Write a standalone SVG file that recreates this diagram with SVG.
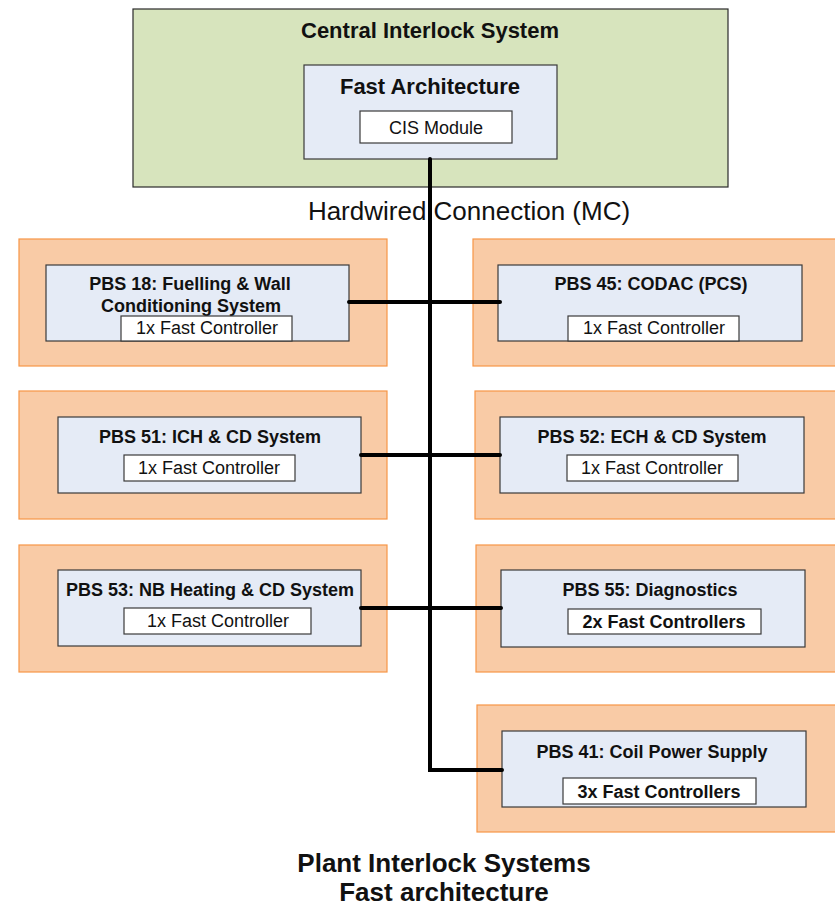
<svg xmlns="http://www.w3.org/2000/svg" width="835" height="907" viewBox="0 0 835 907">
  <style>
    .outer { fill: #f9cba6; stroke: #f79646; stroke-width: 1.2; }
    .inner { fill: #e5ebf6; stroke: #3a3a3a; stroke-width: 1.2; }
    .ctrl { fill: #ffffff; stroke: #3a3a3a; stroke-width: 1.2; }
    .t { font-family: "Liberation Sans", Arial, sans-serif; fill: #111; text-anchor: middle; }
    .ttl { font-size: 18px; font-weight: bold; }
    .ctl { font-size: 18px; }
    .ctlb { font-size: 18px; font-weight: bold; }
    .wire { fill: none; stroke: #000; stroke-width: 4; stroke-linecap: round; stroke-linejoin: miter; }
  </style>
  <rect width="835" height="907" fill="#ffffff"/>

  <!-- Central interlock system -->
  <g id="cis">
    <rect x="133" y="9" width="595" height="178" fill="#d7e4bd" stroke="#2a2a2a" stroke-width="1.2"/>
    <text class="t" x="430" y="38" font-size="22" font-weight="bold">Central Interlock System</text>
    <rect class="inner" x="304" y="65" width="253" height="94"/>
    <text class="t" x="430" y="94" font-size="22" font-weight="bold">Fast Architecture</text>
    <rect class="ctrl" x="360" y="111" width="152" height="32"/>
    <text class="t ctl" x="436" y="134">CIS Module</text>
  </g>

  <!-- Plant systems -->
  <g id="pbs18">
    <rect class="outer" x="19" y="239" width="368" height="127"/>
    <rect class="inner" x="46" y="265" width="303" height="76"/>
    <text class="t ttl" x="190" y="290" font-size="19">PBS 18: Fuelling &amp; Wall</text>
    <text class="t ttl" x="191" y="312" font-size="19">Conditioning System</text>
    <rect class="ctrl" x="121" y="316" width="171" height="25"/>
    <text class="t ctl" x="207" y="334">1x Fast Controller</text>
  </g>

  <g id="pbs45">
    <rect class="outer" x="473" y="239" width="372" height="127"/>
    <rect class="inner" x="498" y="265" width="304" height="76"/>
    <text class="t ttl" x="651" y="290">PBS 45: CODAC (PCS)</text>
    <rect class="ctrl" x="568" y="316" width="171" height="25"/>
    <text class="t ctl" x="654" y="334">1x Fast Controller</text>
  </g>

  <g id="pbs51">
    <rect class="outer" x="19" y="391" width="368" height="128"/>
    <rect class="inner" x="58" y="417" width="303" height="76"/>
    <text class="t ttl" x="210" y="443">PBS 51: ICH &amp; CD System</text>
    <rect class="ctrl" x="124" y="455" width="171" height="26"/>
    <text class="t ctl" x="209" y="474">1x Fast Controller</text>
  </g>

  <g id="pbs52">
    <rect class="outer" x="475" y="391" width="370" height="128"/>
    <rect class="inner" x="500" y="417" width="304" height="76"/>
    <text class="t ttl" x="652" y="443">PBS 52: ECH &amp; CD System</text>
    <rect class="ctrl" x="567" y="455" width="171" height="26"/>
    <text class="t ctl" x="652" y="474">1x Fast Controller</text>
  </g>

  <g id="pbs53">
    <rect class="outer" x="19" y="545" width="368" height="127"/>
    <rect class="inner" x="58" y="570" width="303" height="76"/>
    <text class="t ttl" x="210" y="596">PBS 53: NB Heating &amp; CD System</text>
    <rect class="ctrl" x="124" y="608" width="187" height="26"/>
    <text class="t ctl" x="218" y="627">1x Fast Controller</text>
  </g>

  <g id="pbs55">
    <rect class="outer" x="476" y="545" width="369" height="127"/>
    <rect class="inner" x="501" y="570" width="304" height="77"/>
    <text class="t ttl" x="650" y="596">PBS 55: Diagnostics</text>
    <rect class="ctrl" x="568" y="609" width="193" height="25"/>
    <text class="t ctlb" x="664" y="628">2x Fast Controllers</text>
  </g>

  <g id="pbs41">
    <rect class="outer" x="477" y="705" width="368" height="127"/>
    <rect class="inner" x="502" y="731" width="304" height="76"/>
    <text class="t ttl" x="652" y="758">PBS 41: Coil Power Supply</text>
    <rect class="ctrl" x="563" y="778" width="193" height="26"/>
    <text class="t ctlb" x="659" y="798">3x Fast Controllers</text>
  </g>

  <!-- Hardwired bus -->
  <g id="connectors">
    <text class="t" x="469" y="220" font-size="26">Hardwired Connection (MC)</text>
    <path class="wire" d="M430 159 V770 H502"/>
    <path class="wire" d="M349 302 H500"/>
    <path class="wire" d="M361 455 H500"/>
    <path class="wire" d="M361 608 H501"/>
  </g>

  <g id="caption">
    <text class="t" x="444" y="872" font-size="26" font-weight="bold">Plant Interlock Systems</text>
    <text class="t" x="444" y="901" font-size="26" font-weight="bold">Fast architecture</text>
  </g>
</svg>
